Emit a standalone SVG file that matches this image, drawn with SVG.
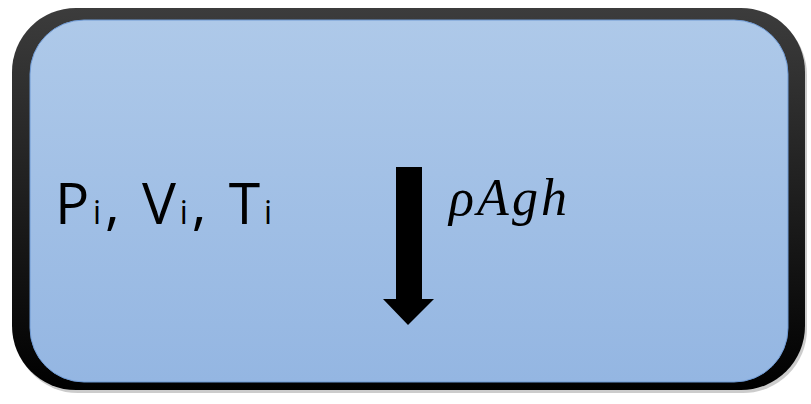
<svg xmlns="http://www.w3.org/2000/svg" width="811" height="404" viewBox="0 0 811 404">
<defs>
<linearGradient id="frame" x1="0" y1="0" x2="0" y2="1">
<stop offset="0" stop-color="#3c3c3c"/>
<stop offset="1" stop-color="#000000"/>
</linearGradient>
<linearGradient id="fill" x1="0" y1="0" x2="0" y2="1">
<stop offset="0" stop-color="#aec9e9"/>
<stop offset="1" stop-color="#94b6e2"/>
</linearGradient>
<style>
.lbl{font-family:"Open Sans","Liberation Sans",sans-serif;fill:#000}
.math{font-family:"Liberation Serif","DejaVu Serif",serif;font-style:italic;fill:#000}
</style>
</defs>
<rect width="811" height="404" fill="#ffffff"/>
<g id="box">
<rect x="14" y="11" width="793" height="382" rx="64" fill="#9a9a9a" opacity="0.5"/>
<rect x="12" y="8" width="793" height="382" rx="64" fill="url(#frame)"/>
<rect x="30" y="20" width="758" height="362" rx="54" fill="url(#fill)" stroke="#6f9ad4" stroke-width="1"/>
</g>
<g id="state">
<text class="lbl" x="55" y="224" font-size="57" textLength="217" lengthAdjust="spacing">P<tspan font-size="32">i</tspan>, V<tspan font-size="32">i</tspan>, T<tspan font-size="32">i</tspan></text>
</g>
<g id="connectors">
<polygon points="396,167 422,167 422,299 434,299 408,325 383,299 396,299" fill="#000"/>
</g>
<g id="force">
<text class="math" x="449" y="215" font-size="52" textLength="118" lengthAdjust="spacing">ρAgh</text>
</g>
</svg>
